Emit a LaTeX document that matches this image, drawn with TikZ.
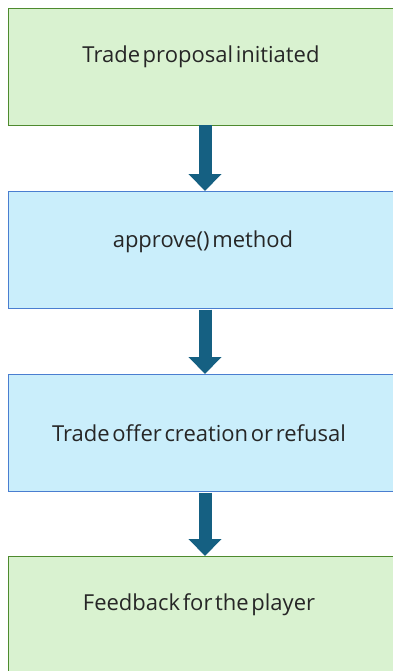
\documentclass[tikz,border=0pt]{standalone}
\usepackage{fontspec}
\setmainfont{Open Sans}
\usetikzlibrary{arrows.meta}
\definecolor{greenfill}{HTML}{D9F2D0}
\definecolor{greenline}{HTML}{4E8A2E}
\definecolor{bluefill}{HTML}{CAEEFB}
\definecolor{blueline}{HTML}{4A7ED0}
\definecolor{arrowblue}{HTML}{156082}
\definecolor{steptextcolor}{HTML}{262626}
\newcommand\stepfont{\fontsize{22}{26}\selectfont\spaceskip 0.12em\relax}
\tikzset{
  x=1pt, y=1pt,
  stepbox/.style={draw, line width=1pt, rectangle, minimum width=394pt, minimum height=117pt, anchor=north west, inner sep=0pt},
  greenbox/.style={stepbox, fill=greenfill, draw=greenline},
  bluebox/.style={stepbox, fill=bluefill, draw=blueline},
  steptext/.style={font=\stepfont, text=steptextcolor, inner sep=0pt},
  flow/.style={draw=arrowblue, line width=13pt, -{Triangle[width=32pt, length=17pt, fill=arrowblue]}, shorten <=0.5pt}
}
\begin{document}
\begin{tikzpicture}
\useasboundingbox (0,0) rectangle (392,-671);
\node[greenbox] (b1) at (8,-8) {};
\node[bluebox]  (b2) at (8,-191) {};
\node[bluebox]  (b3) at (8,-374) {};
\node[greenbox] (b4) at (8,-556) {};
\node[steptext] (t1) at (201,-57)  {Trade proposal initiated};
\node[steptext] (t2) at (203,-242) {approve() method};
\node[steptext] (t3) at (199,-433) {Trade offer creation or refusal};
\node[steptext] (t4) at (199,-605) {Feedback for the player};
\draw[flow] (205,-125) coordinate (a1) -- (205,-191) coordinate (a2);
\draw[flow] (205,-309) coordinate (a3) -- (205,-374) coordinate (a4);
\draw[flow] (205,-492) coordinate (a5) -- (205,-556) coordinate (a6);
\end{tikzpicture}
\end{document}
